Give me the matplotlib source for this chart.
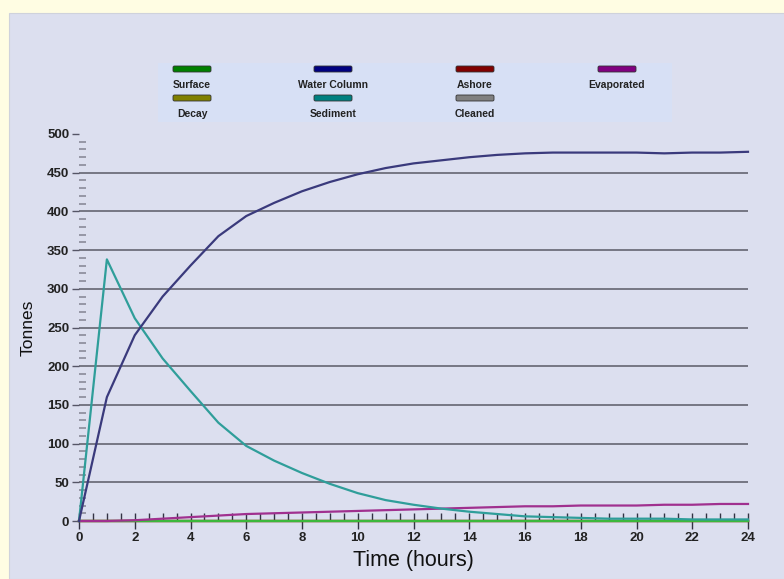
import matplotlib.pyplot as plt
import matplotlib.ticker as ticker
from matplotlib.patches import Rectangle, FancyBboxPatch

plt.rcParams['font.family'] = ['Liberation Sans', 'DejaVu Sans']

# hourly values
hours = list(range(25))
water_column = [0, 160, 240, 290, 330, 368, 394, 411, 426, 438, 448, 456, 462, 466,
                470, 473, 475, 476, 476, 476, 476, 475, 476, 476, 477]
sediment = [0, 338, 262, 210, 168, 127, 97, 78, 62, 48, 36, 27, 21, 16, 12, 9, 6, 5,
            4, 3, 3, 3, 2, 2, 2]
evaporated = [0, 0, 1, 3, 5, 7, 9, 10, 11, 12, 13, 14, 15, 16, 17, 18, 19, 19, 20, 20,
              20, 21, 21, 22, 22]
surface = [0] * 25
decay = [0] * 25
ashore = [0] * 25
cleaned = [0] * 25

legend_names = ['Surface', 'Water Column', 'Ashore', 'Evaporated',
                'Decay', 'Sediment', 'Cleaned']
legend_colors = ['#008000', '#000080', '#800000', '#800080',
                 '#808000', '#008080', '#808080']

fig = plt.figure(figsize=(7.84, 5.79), dpi=100, facecolor='#FFFDE3')
fig.patches.append(Rectangle((9 / 784, 0), 1, 1 - 13 / 579, transform=fig.transFigure,
                             facecolor='#DCDFEF', edgecolor='#cfd2dc', lw=0.8,
                             zorder=-10))

ax = fig.add_axes([79 / 784, 58 / 579, 669 / 784, 387 / 579])
ax.set_facecolor('none')
for s in ['top', 'right', 'left']:
    ax.spines[s].set_visible(False)
ax.spines['bottom'].set_color('#333344')
ax.spines['bottom'].set_linewidth(1.2)

series = [(cleaned, '#808080'), (ashore, '#800000'), (decay, '#808000'),
          (surface, '#3cb83c'), (evaporated, '#a0308f'),
          (sediment, '#2f9e9a'), (water_column, '#3a3a7c')]
for vals, col in series:
    ax.plot(hours, vals, color=col, lw=1.6, clip_on=False, zorder=3)

ax.set_xlim(0, 24)
ax.set_ylim(0, 500)
ax.xaxis.set_major_locator(ticker.MultipleLocator(2))
ax.xaxis.set_minor_locator(ticker.MultipleLocator(0.5))
ax.yaxis.set_major_locator(ticker.MultipleLocator(50))
ax.yaxis.set_minor_locator(ticker.MultipleLocator(10))
ax.tick_params(axis='x', which='major', direction='inout', length=12, width=1,
               color='#333344', pad=2)
ax.tick_params(axis='x', which='minor', direction='in', length=6, width=1,
               color='#333344')
ax.tick_params(axis='y', which='major', direction='out', length=5, width=1,
               color='#555566', pad=2)
ax.tick_params(axis='y', which='minor', direction='in', length=5, width=1.2,
               color='#8a8a99')
for lab in ax.get_xticklabels() + ax.get_yticklabels():
    lab.set_fontweight('bold')
    lab.set_fontsize(9.5)
    lab.set_color('#222222')
ax.grid(axis='y', which='major', color='#5a5a66', lw=1.1)
ax.set_axisbelow(True)

ax.set_ylabel('Tonnes', fontsize=12.5, color='#111111', labelpad=8)
ax.set_xlabel('Time (hours)', fontsize=15.5, color='#111111', labelpad=4)

# legend box
lax = fig.add_axes([158 / 784, (579 - 122) / 579, 514 / 784, 59 / 579])
lax.set_xlim(0, 514)
lax.set_ylim(59, 0)
lax.axis('off')
lax.add_patch(Rectangle((0, 0), 514, 59, facecolor='#D7E0F5', edgecolor='none'))
col_x = [34, 175, 317, 459]
for i, (name, col) in enumerate(zip(legend_names, legend_colors)):
    r, c = divmod(i, 4)
    bar_y = 6 + r * 29
    lax.add_patch(FancyBboxPatch((col_x[c] - 19, bar_y - 3), 38, 6,
                                 boxstyle='round,pad=0,rounding_size=1.5',
                                 facecolor=col, edgecolor='#333333', lw=0.6))
    lax.text(col_x[c], bar_y + 16, name, ha='center', va='center', fontsize=7.5,
             fontweight='bold', color='#222222')

# no grid line at the top value
fig.canvas.draw()
for tick in ax.yaxis.get_major_ticks():
    if abs(tick.get_loc() - 500) < 1e-6:
        tick.gridline.set_visible(False)

fig.savefig('out.png', dpi=100, facecolor=fig.get_facecolor())
